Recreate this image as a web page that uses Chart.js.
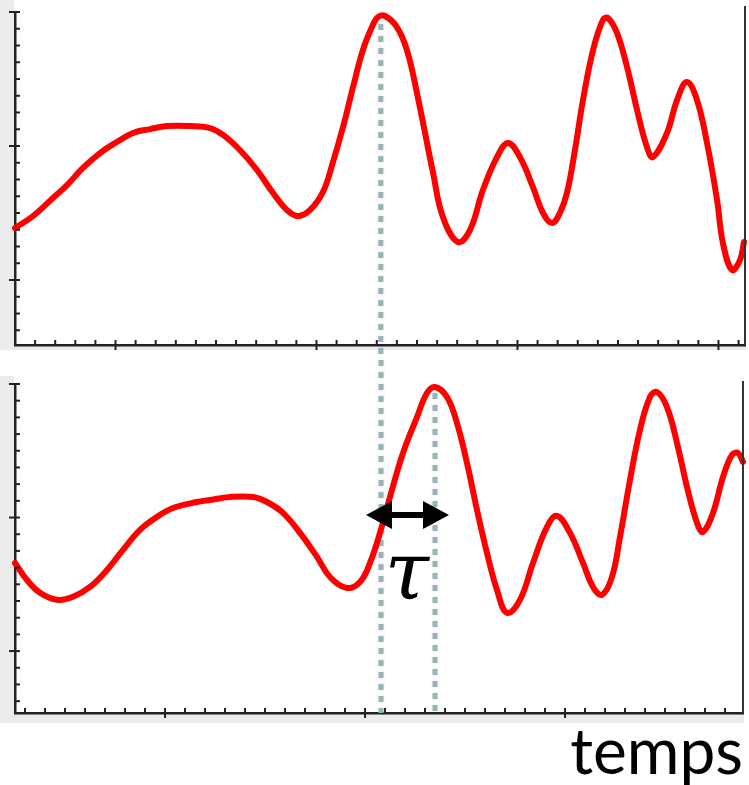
<!DOCTYPE html>
<html><head><meta charset="utf-8">
<script src="https://cdn.jsdelivr.net/npm/chart.js@4.4.1/dist/chart.umd.min.js"></script>
<style>
html,body{margin:0;padding:0;background:#fff;overflow:hidden;}
#top{position:absolute;left:0;top:0;width:749px;height:355px;}
#bot{position:absolute;left:0;top:355px;width:749px;height:430px;}
</style></head><body>
<div id="top"><canvas id="c1"></canvas></div>
<div id="bot"><canvas id="c2"></canvas></div>
<script>
// ---- data ----
const topTime = [0,0.90,1.89,2.59,3.38,4.23,5.07,5.87,6.72,7.56,8.71,9.70,10.35,11.19,12.04,12.84,13.53,14.08,14.68,15.32,15.82,16.32,16.82,17.31,17.76,18.06,18.41,19.00,19.50,20.00,20.80,21.29,22.04,22.64,23.28,23.98,24.53,25.12,25.77,26.27,26.72,27.11,27.46,27.86,28.26,28.76,29.25,29.50,29.95,30.45,30.95,31.44,31.74,32.44,32.94,33.43,33.93,34.43,34.93,35.22,35.67,36.07,36.27];
const topSignal = [7.10,7.82,8.90,9.67,10.69,11.58,12.24,12.78,13.01,13.19,13.19,13.07,12.66,11.76,10.57,9.19,8.18,7.82,8.18,9.25,11.04,13.13,15.52,17.73,19.10,19.70,19.76,19.10,17.73,15.16,10.39,7.76,6.27,6.99,9.37,11.34,12.18,11.34,9.55,8.00,7.40,8.00,9.19,11.76,14.75,17.73,19.52,19.64,18.75,16.72,14.15,11.94,11.34,12.78,14.75,15.82,14.75,12.18,8.78,6.21,4.60,5.19,6.27];
const botTime = [0.5,1.1,1.75,2.6,3.4,4.25,5.1,5.9,6.75,7.6,8.4,9.6,10.25,11.25,12.4,13.1,13.9,14.75,15.6,16.25,17.1,17.75,18.25,18.75,19.25,19.9,20.6,21.1,21.5,22.1,22.6,23.1,23.6,24.1,24.6,25.1,25.75,26.4,27.1,27.6,28.25,28.9,29.4,29.85,30.35,30.75,31.25,31.75,32.25,32.6,33.1,33.6,34.1,34.6,34.9,35.4,35.9,36.35,36.65,36.9];
const botSignal = [9.28,8.26,7.49,7.07,7.25,7.84,8.86,10.06,11.26,12.04,12.57,12.93,13.05,13.23,13.23,12.93,12.28,11.08,9.64,8.44,7.78,8.14,9.28,11.08,13.23,15.87,18.02,19.46,19.82,19.22,17.66,15.27,12.46,9.88,7.66,6.29,7.07,9.28,11.44,12.10,11.08,9.28,7.84,7.37,8.44,10.84,14.25,17.25,19.22,19.52,18.62,16.47,13.83,11.68,11.14,12.28,14.43,15.75,15.87,15.33];

const topXRange = [0, 36.32];
const topYRange = [0.12, 20];
const botXRange = [0.5, 36.9];
const botYRange = [0.29, 20];
const topXMajorAt = 5, botXMajorAt = 8, xMajorEvery = 10;
const yMajorAt = 4, yMajorEvery = 8;

const markTop = 18.2;          // dotted line through top peak (top panel time)
const markBot = [18.8, 21.5];  // same line and delayed peak (bottom panel time)
const arrowLevel = 12.15;      // arrow height in bottom panel units
const tauLabel = 'τ';
const axisTitle = 'temps';

// ---- styling helpers ----
const AXIS = '#222';
const DOT = '#98b4b6';
const GREY = '#ececec';
const DASH = [6, 6];

function drawTicks(chart, majorAtX) {
  const {ctx, chartArea: a, scales: {x, y}} = chart;
  ctx.save();
  ctx.strokeStyle = AXIS; ctx.lineWidth = 2;
  for (let v = Math.ceil(x.min); v <= Math.floor(x.max); v++) {
    const px = x.getPixelForValue(v);
    if (px <= a.left + 2 || px >= a.right - 2) continue;
    const major = (((v - majorAtX) % xMajorEvery) + xMajorEvery) % xMajorEvery === 0;
    ctx.beginPath(); ctx.moveTo(px, a.bottom - 5); ctx.lineTo(px, a.bottom + (major ? 5 : 0)); ctx.stroke();
  }
  for (let v = Math.ceil(y.min); v <= Math.floor(y.max); v++) {
    const py = y.getPixelForValue(v);
    if (py >= a.bottom - 2) continue;
    const major = (((v - yMajorAt) % yMajorEvery) + yMajorEvery) % yMajorEvery === 0;
    ctx.beginPath(); ctx.moveTo(a.left - (major ? 6 : 0), py); ctx.lineTo(a.left + 5, py); ctx.stroke();
  }
  ctx.restore();
}

function rightBorder(chart, ext) {
  const {ctx, chartArea: a} = chart;
  ctx.save(); ctx.strokeStyle = '#333'; ctx.lineWidth = 2;
  ctx.beginPath(); ctx.moveTo(a.right, a.top - ext); ctx.lineTo(a.right, a.bottom); ctx.stroke();
  ctx.restore();
}

function dotted(ctx, x, y1, y2, offset) {
  ctx.save();
  ctx.strokeStyle = DOT; ctx.lineWidth = 5; ctx.setLineDash(DASH); ctx.lineDashOffset = offset || 0;
  ctx.shadowColor = 'rgba(0,0,0,0.12)'; ctx.shadowBlur = 3;
  ctx.beginPath(); ctx.moveTo(x, y1); ctx.lineTo(x, y2); ctx.stroke();
  ctx.restore();
}

let topDashPhase = 0;

const topDeco = {
  id: 'topDeco',
  beforeDraw(chart) {
    const {ctx, chartArea: a} = chart;
    ctx.save(); ctx.fillStyle = GREY;
    ctx.fillRect(0, 0, a.left - 1, a.bottom + 5);
    ctx.fillRect(0, a.bottom, a.right + 1, 5);
    ctx.restore();
  },
  beforeDatasetsDraw(chart) {
    const {ctx, scales: {x, y}} = chart;
    const px = x.getPixelForValue(markTop);
    const y1 = y.getPixelForValue(Math.max(...topSignal)) + 8;
    const y2 = chart.height;
    topDashPhase = (y2 - y1) % 12;
    dotted(ctx, px, y1, y2, 0);
  },
  afterDraw(chart) {
    drawTicks(chart, topXMajorAt);
    rightBorder(chart, 6);
  }
};

const botDeco = {
  id: 'botDeco',
  beforeDraw(chart) {
    const {ctx, chartArea: a} = chart;
    ctx.save(); ctx.fillStyle = GREY;
    ctx.fillRect(0, a.top - 8, a.left - 1, a.bottom - a.top + 18);
    ctx.fillRect(0, a.bottom, a.right + 1, 10);
    ctx.restore();
  },
  beforeDatasetsDraw(chart) {
    const {ctx, chartArea: a, scales: {x, y}} = chart;
    const pl = x.getPixelForValue(markBot[0]);
    const pr = x.getPixelForValue(markBot[1]);
    dotted(ctx, pl, 0, a.bottom, topDashPhase);
    dotted(ctx, pr, y.getPixelForValue(Math.max(...botSignal)) + 6, a.bottom, 0);
  },
  afterDraw(chart) {
    const {ctx, chartArea: a, scales: {x, y}} = chart;
    drawTicks(chart, botXMajorAt);
    rightBorder(chart, 3);
    // double arrow
    const pl = x.getPixelForValue(markBot[0]);
    const pr = x.getPixelForValue(markBot[1]);
    const py = y.getPixelForValue(arrowLevel);
    const tl = pl - 15, tr = pr + 14, hl = 26, hh = 14;
    ctx.save();
    ctx.fillStyle = '#000'; ctx.strokeStyle = '#000'; ctx.lineWidth = 6;
    ctx.beginPath(); ctx.moveTo(tl + hl - 2, py); ctx.lineTo(tr - hl + 2, py); ctx.stroke();
    ctx.beginPath(); ctx.moveTo(tl, py); ctx.lineTo(tl + hl, py - hh); ctx.lineTo(tl + hl, py + hh); ctx.closePath(); ctx.fill();
    ctx.beginPath(); ctx.moveTo(tr, py); ctx.lineTo(tr - hl, py - hh); ctx.lineTo(tr - hl, py + hh); ctx.closePath(); ctx.fill();
    // tau label
    ctx.font = "italic 80px 'DejaVu Serif'";
    ctx.textAlign = 'center'; ctx.textBaseline = 'alphabetic';
    ctx.fillText(tauLabel, (pl + pr) / 2 - 1, py + 84);
    ctx.restore();
  }
};

function scalesFor(xr, yr) {
  const common = {
    type: 'linear',
    ticks: {display: false},
    grid: {display: true, drawOnChartArea: false, drawTicks: false},
    border: {display: true, color: AXIS, width: 2.5}
  };
  return {
    x: Object.assign({}, common, {min: xr[0], max: xr[1], afterFit(s) { s.height = 0; }}),
    y: Object.assign({}, common, {min: yr[0], max: yr[1], afterFit(s) { s.width = 0; }})
  };
}

function lineData(t, v) {
  return {datasets: [{
    data: t.map((tt, i) => ({x: tt, y: v[i]})),
    borderColor: '#ff0000', borderWidth: 6, pointRadius: 0,
    tension: 0.4, fill: false, clip: 8,
    borderCapStyle: 'round', borderJoinStyle: 'round'
  }]};
}

new Chart(document.getElementById('c1'), {
  type: 'line',
  data: lineData(topTime, topSignal),
  options: {
    responsive: true, maintainAspectRatio: false, animation: false,
    layout: {padding: {left: 15, top: 12, right: 4, bottom: 10}},
    plugins: {legend: {display: false}, tooltip: {enabled: false}, title: {display: false}},
    scales: scalesFor(topXRange, topYRange)
  },
  plugins: [topDeco]
});

new Chart(document.getElementById('c2'), {
  type: 'line',
  data: lineData(botTime, botSignal),
  options: {
    responsive: true, maintainAspectRatio: false, animation: false,
    layout: {padding: {left: 15, top: 29, right: 6, bottom: 0}},
    plugins: {
      legend: {display: false}, tooltip: {enabled: false},
      title: {
        display: true, text: axisTitle, position: 'bottom', align: 'end',
        color: '#000', font: {family: 'Lato', size: 64, weight: 'normal', lineHeight: 1},
        padding: {top: 8, bottom: 0}
      }
    },
    scales: scalesFor(botXRange, botYRange)
  },
  plugins: [botDeco]
});
</script>
</body></html>
